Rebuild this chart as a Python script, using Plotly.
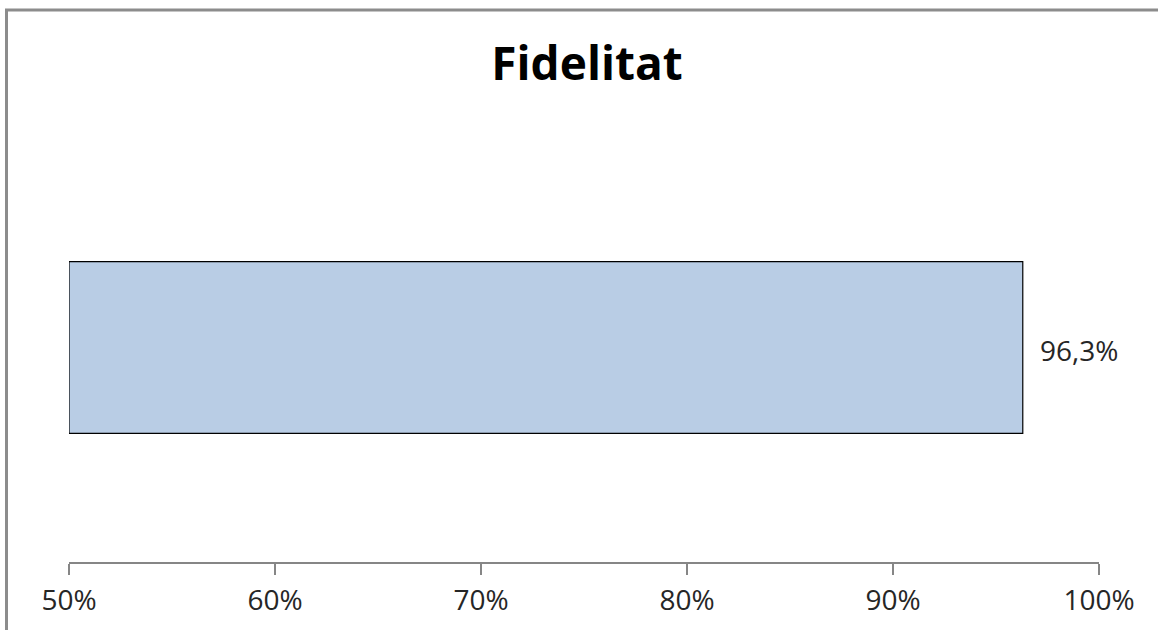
import plotly.graph_objects as go

# Chart data
categories = ["Fidelitat"]
values = [96.3]
value_labels = ["96,3%"]
tick_values = [50, 60, 70, 80, 90, 100]
tick_labels = ["50%", "60%", "70%", "80%", "90%", "100%"]
axis_min, axis_max = 50, 100
title_text = "Fidelitat"

W, H = 1158, 630
FONT = "Open Sans"

# bars start at the left end of the axis, so the length is measured from there
fig = go.Figure()
fig.add_trace(go.Bar(
    x=[v - axis_min for v in values],
    y=categories,
    base=[axis_min] * len(values),
    orientation="h",
    width=0.4,
    marker=dict(color="#B9CDE5", line=dict(color="#000000", width=1.2)),
    hoverinfo="skip",
))

# value label to the right of each bar
for v, cat, lab in zip(values, categories, value_labels):
    fig.add_annotation(
        x=v, y=cat, text=lab, showarrow=False,
        xanchor="left", yanchor="middle", xshift=15, yshift=-2,
        font=dict(family=FONT, size=28, color="#262626"),
    )

# outer chart frame
fig.add_shape(
    type="rect", xref="paper", yref="paper",
    x0=-62.5 / 1030, x1=1.2, y0=-0.3, y1=1 + (133 - 9.5) / 431,
    line=dict(color="#8C8C8C", width=3), fillcolor="rgba(0,0,0,0)",
    layer="below",
)

fig.update_layout(
    width=W, height=H,
    margin=dict(l=69, r=59, t=133, b=66),
    paper_bgcolor="white", plot_bgcolor="white",
    showlegend=False,
    title=dict(
        text=title_text, x=587 / W, xref="container", xanchor="center",
        y=1 - 64 / H, yref="container", yanchor="middle",
        font=dict(family=FONT, size=46, color="#000000", weight="bold"),
    ),
    xaxis=dict(
        range=[axis_min, axis_max],
        tickvals=tick_values, ticktext=tick_labels,
        showgrid=False, zeroline=False,
        showline=True, linecolor="#868686", linewidth=1.5,
        ticks="outside", ticklen=11, tickcolor="#868686", tickwidth=1.5,
        ticklabelstandoff=2,
        tickfont=dict(family=FONT, size=28, color="#262626"),
        fixedrange=True,
    ),
    yaxis=dict(
        showticklabels=False, showgrid=False, zeroline=False,
        showline=False, ticks="", fixedrange=True,
    ),
)

fig.write_html("out.html")
